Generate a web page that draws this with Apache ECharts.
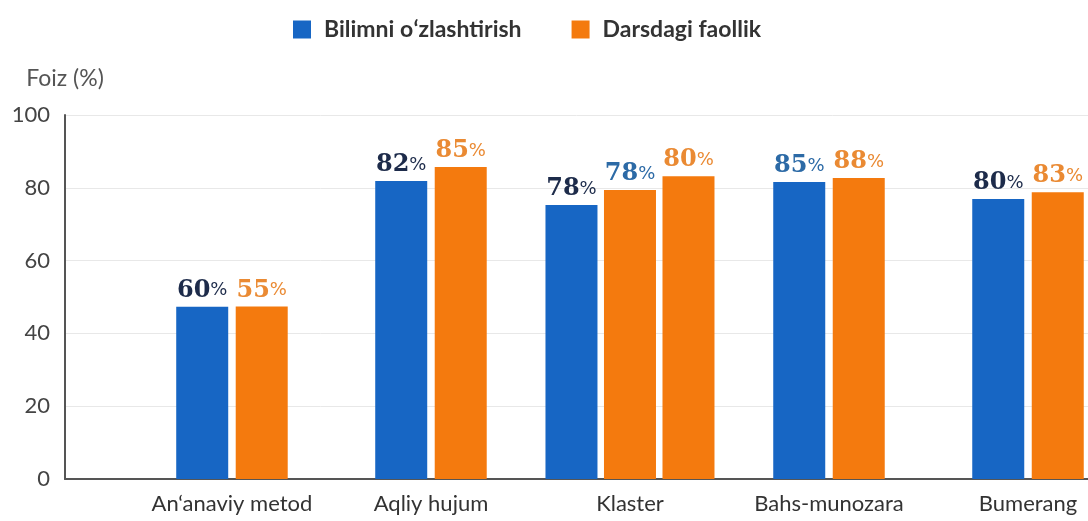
<!DOCTYPE html>
<html><head><meta charset="utf-8">
<script src="https://cdn.jsdelivr.net/npm/echarts@6/dist/echarts.min.js"></script>
<style>html,body{margin:0;padding:0;background:#fff}#c{width:1088px;height:521px}</style>
</head><body><div id="c"></div>
<script>
// ---- data ----
const categories = ['An‘anaviy metod', 'Aqliy hujum', 'Klaster', 'Bahs-munozara', 'Bumerang'];
const seriesNames = ['Bilimni oʻzlashtirish', 'Darsdagi faollik'];
const yTicks = [0, 20, 40, 60, 80, 100];
// bar heights as drawn
const bilimni = [47.3, 81.9, 75.3, 81.6, 76.9];
const faollik = [47.4, 85.7, 83.2, 82.7, 78.8];
const klasterExtra = [null, null, 79.4, null, null];   // extra (third) bar drawn in the Klaster group
// value labels printed above bars
const bilimniLabels = [60, 82, 78, 85, 80];
const faollikLabels = [55, 85, 80, 88, 83];
const extraLabels = [null, null, 78, null, null];

// ---- styling / layout ----
const BLUE = '#1766c4', ORANGE = '#f47a0e';
const NAVY_TXT = '#1d2b4a', BLUE_TXT = '#2c6aa6', ORANGE_TXT = '#ea8a33';
const PAIR_OFF = 0.1495, TRIPLE_OFF = 0.294;
const blueTextIdx = new Set([3]);

function xPos(i, kind) {
  const triple = klasterExtra[i] != null;
  if (triple) return i + ({ b: -TRIPLE_OFF, e: 0, o: TRIPLE_OFF })[kind];
  return i + (kind === 'b' ? -PAIR_OFF : PAIR_OFF);
}
const rich = (color) => ({
  n: { fontFamily: 'DejaVu Serif', fontWeight: 'bold', fontSize: 24, color: color },
  p: { fontFamily: 'DejaVu Sans', fontSize: 18, color: color }
});
function labelFor(text, color) {
  return {
    show: true, position: 'top', distance: 4,
    formatter: '{n|' + text + '}{p|%}',
    rich: rich(color)
  };
}

const blueData = bilimni.map((v, i) => ({
  value: [xPos(i, 'b'), v],
  label: labelFor(bilimniLabels[i], blueTextIdx.has(i) ? BLUE_TXT : NAVY_TXT)
}));
const orangeData = faollik.map((v, i) => ({
  value: [xPos(i, 'o'), v],
  label: labelFor(faollikLabels[i], ORANGE_TXT)
}));
const extraData = [];
klasterExtra.forEach((v, i) => {
  if (v != null) extraData.push({ value: [xPos(i, 'e'), v], label: labelFor(extraLabels[i], BLUE_TXT) });
});

const chart = echarts.init(document.getElementById('c'), null, { renderer: 'canvas' });
chart.setOption({
  animation: false,
  backgroundColor: '#ffffff',
  legend: {
    data: seriesNames,
    left: 288, top: 13,
    itemWidth: 18, itemHeight: 18, itemGap: 50, icon: 'rect',
    textStyle: { fontFamily: 'Lato', fontSize: 23, fontWeight: 'bold', color: '#333', padding: [0, 0, 0, 8] }
  },
  grid: { left: 65, right: 0, top: 115, bottom: 42, outerBoundsMode: 'none' },
  xAxis: {
    type: 'value', min: -0.839, max: 4.3015,
    splitLine: { show: false },
    axisTick: { show: false },
    axisLine: { show: true, onZero: false, lineStyle: { color: '#555', width: 2 } },
    axisLabel: {
      customValues: categories.map((c, i) => i),
      formatter: (v) => categories[Math.round(v)] || '',
      fontFamily: 'Lato', fontSize: 22, color: '#333', margin: 14
    }
  },
  yAxis: {
    type: 'value', min: yTicks[0], max: yTicks[yTicks.length - 1], interval: 20,
    name: 'Foiz (%)', nameLocation: 'end', nameGap: 25,
    nameTextStyle: { fontFamily: 'Lato', fontSize: 23, color: '#555' },
    axisLine: { show: true, onZero: false, lineStyle: { color: '#555', width: 2 } },
    axisTick: { show: false },
    splitLine: { lineStyle: { color: '#e8e8e8' } },
    axisLabel: { fontFamily: 'Lato', fontSize: 22, color: '#444', margin: 15 }
  },
  series: [
    { name: seriesNames[0], type: 'bar', barWidth: 52, barGap: '-100%', itemStyle: { color: BLUE }, data: blueData },
    { name: seriesNames[1], type: 'bar', barWidth: 52, barGap: '-100%', itemStyle: { color: ORANGE }, data: orangeData },
    { name: seriesNames[1], type: 'bar', barWidth: 52, barGap: '-100%', itemStyle: { color: ORANGE }, data: extraData }
  ]
});
</script>
</body></html>
